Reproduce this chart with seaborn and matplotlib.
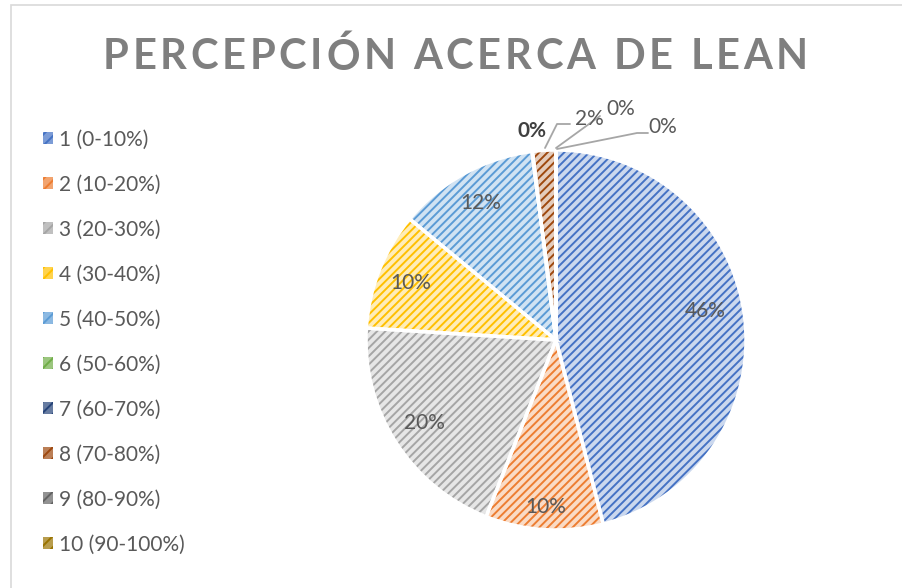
import matplotlib
matplotlib.use("Agg")
import matplotlib.pyplot as plt
import seaborn as sns
import numpy as np
from matplotlib.patches import Patch, Rectangle
from matplotlib.colors import to_rgb

categories = ["1 (0-10%)", "2 (10-20%)", "3 (20-30%)", "4 (30-40%)", "5 (40-50%)",
              "6 (50-60%)", "7 (60-70%)", "8 (70-80%)", "9 (80-90%)", "10 (90-100%)"]
values = [46, 10, 20, 10, 12, 0, 0, 2, 0, 0]
colors = ["#4472C4", "#ED7D31", "#A5A5A5", "#FFC000", "#5B9BD5",
          "#70AD47", "#264478", "#9E480E", "#636363", "#997300"]
title = "PERCEPCIÓN ACERCA DE LEAN"

sns.set_theme(style="white")
plt.rcParams['font.family'] = ['Lato', 'DejaVu Sans']
plt.rcParams['hatch.linewidth'] = 1.4

def tint(c, f=0.72):
    r, g, b = to_rgb(c)
    return (r + (1 - r) * f, g + (1 - g) * f, b + (1 - b) * f)

fig = plt.figure(figsize=(9.02, 5.88), dpi=100)
W, H = 902, 588

# chart border
fig.add_artist(Rectangle((11 / W, -0.1), 1.2, 1.1 - 5 / H, transform=fig.transFigure,
                         fill=False, edgecolor="#D9D9D9", linewidth=1.2))

cx, cy, R = 556, 340, 190
half = 1.25 * R
ax = fig.add_axes([(cx - half) / W, (H - cy - half) / H, 2 * half / W, 2 * half / H])

def pct(v):
    return f"{v:.0f}%" if v >= 5 else ""

fs = 15
wedges, _, autotexts = ax.pie(values, colors=[tint(c) for c in colors], startangle=90,
                              counterclock=False, autopct=pct, pctdistance=0.82,
                              wedgeprops=dict(linewidth=0),
                              textprops=dict(color="#595959", fontsize=fs))
for w, c in zip(wedges, colors):
    w.set_hatch("////")
    w.set_edgecolor(c)
    w.set_linewidth(0)
# Excel best-fit placement tweaks
x_, y_ = autotexts[1].get_position()
autotexts[1].set_position((x_ * 0.88 / 0.82, y_ * 0.88 / 0.82))
ang = np.deg2rad(10.9)
autotexts[0].set_position((0.80 * np.cos(ang), 0.80 * np.sin(ang)))
ax.pie(values, colors=["none"] * len(values), startangle=90, counterclock=False,
       wedgeprops=dict(linewidth=2.5, edgecolor="white", fill=False))

def p(px, py):
    return ((px - cx) / R, (cy - py) / R)

lc = "#A6A6A6"
ax.text(*p(532, 131), "0%", ha="center", va="center", fontsize=fs,
        color="#404040", fontweight="bold")
ax.plot(*zip(p(545, 148), p(557, 124), p(570, 124)), color=lc, lw=1.3)
ax.text(*p(589, 119), "2%", ha="center", va="center", fontsize=fs, color="#595959")
ax.plot(*zip(p(556, 148), p(600, 116)), color=lc, lw=1.3)
ax.text(*p(621, 109), "0%", ha="center", va="center", fontsize=fs, color="#595959")
ax.plot(*zip(p(557, 149), p(637, 133), p(648, 133)), color=lc, lw=1.3)
ax.text(*p(663, 127), "0%", ha="center", va="center", fontsize=fs, color="#595959")

ax.set_xlim(-1.25, 1.25)
ax.set_ylim(-1.25, 1.25)
ax.set_aspect("equal")
ax.axis("off")

# title with letter spacing
renderer = fig.canvas.get_renderer()
tkw = dict(fontsize=30, fontweight="bold", color="#7F7F7F", va="center", ha="left")
widths = []
for ch in title:
    t = fig.text(0, 0, "n" if ch == " " else ch, **tkw)
    wd = t.get_window_extent(renderer).width
    widths.append(wd * 0.45 if ch == " " else wd)
    t.remove()
x0, x1 = 103, 808
gap = (x1 - x0 - sum(widths)) / (len(title) - 1)
x = x0
for ch, wd in zip(title, widths):
    if ch != " ":
        fig.text(x / W, 1 - 57 / H, ch, **tkw)
    x += wd + gap

# legend
handles = [Patch(facecolor=tint(c, 0.3), edgecolor=c, hatch="///", linewidth=0) for c in colors]
leg = fig.legend(handles, categories, loc="upper left", bbox_to_anchor=(24 / W, 1 - 111 / H),
                 frameon=False, fontsize=fs, handlelength=0.5, handleheight=0.5,
                 handletextpad=0.3, labelspacing=1.2, labelcolor="#595959")

fig.savefig("out.png", dpi=100)
